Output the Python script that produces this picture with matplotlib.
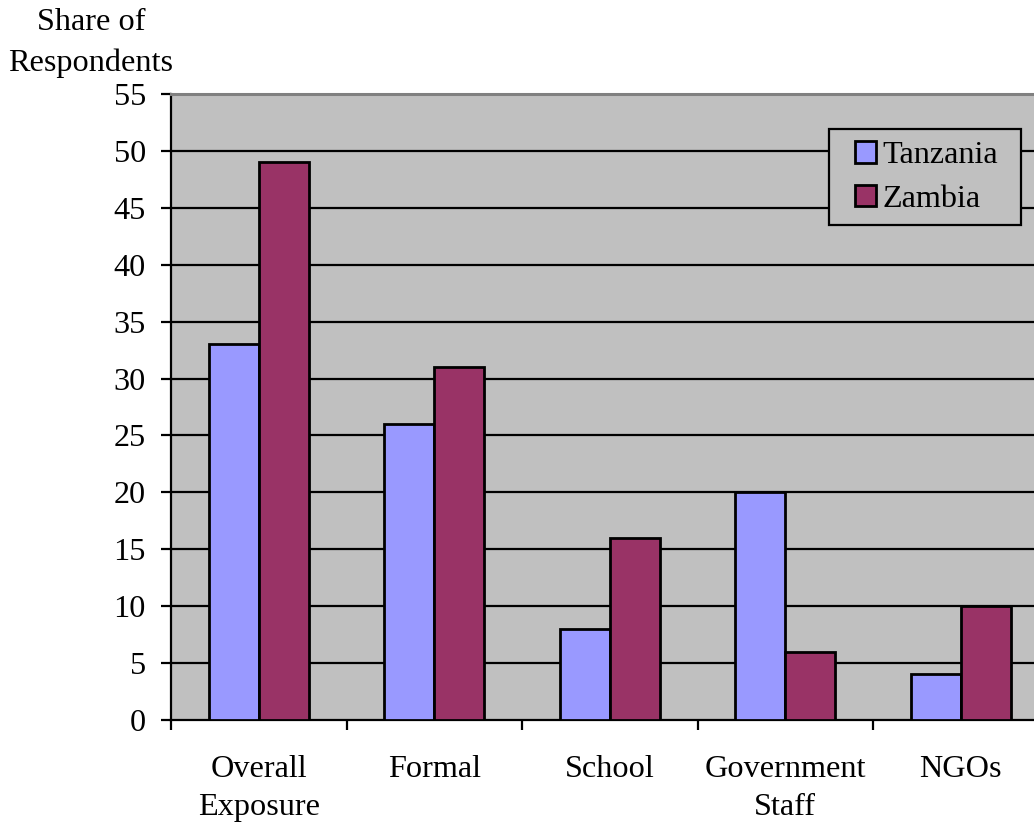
import matplotlib as mpl
mpl.use('Agg')
import matplotlib.pyplot as plt
from matplotlib.patches import Rectangle
import numpy as np

categorias = ["Overall\nExposure", "Formal", "School", "Government\nStaff", "NGOs"]
tanzania = [33, 26, 8, 20, 4]
zambia = [49, 31, 16, 6, 10]
yticks = list(range(0, 60, 5))

plt.rcParams['font.family'] = ['Liberation Serif', 'DejaVu Serif']
FS = 23.2

fig = plt.figure(figsize=(10.34, 8.23), dpi=100)
# o eixo passa da borda direita, como no original recortado
ax = fig.add_axes([171/1034, 103/823, 877.5/1034, 626/823])
ax.set_facecolor('#C0C0C0')

x = np.arange(len(categorias))
w = 0.285
ax.bar(x - w/2, tanzania, w, color='#9999FF', edgecolor='black', linewidth=2, label='Tanzania', zorder=3)
ax.bar(x + w/2, zambia, w, color='#993366', edgecolor='black', linewidth=2, label='Zambia', zorder=3)

ax.set_xlim(-0.5, len(categorias) - 0.5)
ax.set_ylim(0, 55)
ax.set_yticks(yticks)
ax.set_yticklabels([str(v) for v in yticks], fontsize=FS)
for v in yticks[1:-1]:
    ax.axhline(v, color='black', linewidth=1.6, zorder=1)

ax.set_xticks(x)
ax.set_xticklabels(categorias, fontsize=FS, linespacing=1.43)
ax.set_xticks(np.arange(len(categorias)) - 0.5, minor=True)
ax.tick_params(axis='x', which='major', length=0, pad=25)
ax.tick_params(axis='x', which='minor', length=7, width=1.6, direction='out')
ax.tick_params(axis='y', length=7, width=1.6, pad=11)

for s in ['left', 'bottom']:
    ax.spines[s].set_color('black')
    ax.spines[s].set_linewidth(1.6)
ax.spines['top'].set_color('#808080')
ax.spines['top'].set_linewidth(2.2)
ax.spines['right'].set_visible(False)

# caixa da legenda desenhada a parte
caixa = Rectangle((829/1034, 1 - 225/823), 192/1034, 96/823,
                  transform=fig.transFigure, facecolor='#C0C0C0',
                  edgecolor='black', linewidth=1.6, zorder=4, clip_on=False)
ax.add_artist(caixa)
leg = ax.legend(loc='upper left', bbox_to_anchor=(855/1034, 1 - 141/823),
                bbox_transform=fig.transFigure, fontsize=FS, frameon=False,
                handlelength=0.65, handleheight=0.65, handletextpad=0.2,
                borderpad=0, labelspacing=0.45, borderaxespad=0)
leg.set_zorder(5)

fig.text(91/1034, 1 - 23/823, "Share of", fontsize=FS, ha='center', va='center')
fig.text(91/1034, 1 - 63/823, "Respondents", fontsize=FS, ha='center', va='center')

fig.savefig('out.png', dpi=100)
